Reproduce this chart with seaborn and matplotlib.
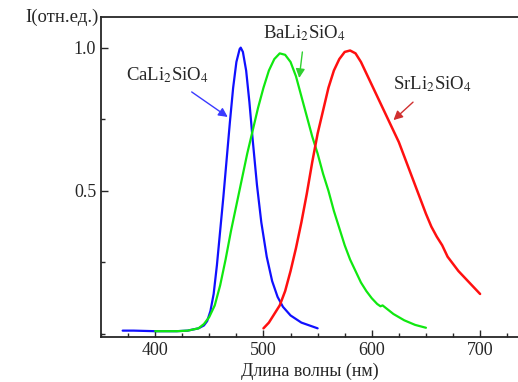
"""Luminescence spectra of CaLi2SiO4, BaLi2SiO4 and SrLi2SiO4."""

import matplotlib

matplotlib.use("Agg")
import matplotlib.pyplot as plt
from matplotlib.ticker import MultipleLocator
import seaborn as sns

# CaLi2SiO4 (blue)
ca_wl = [370, 380, 400, 420, 430, 440, 445, 448, 451, 454, 457, 460, 463, 466,
         469, 472, 475, 478, 479, 481, 484, 487, 490, 494, 498, 503, 508, 513,
         518, 525, 535, 550]
ca_int = [0.012, 0.012, 0.01, 0.01, 0.012, 0.02, 0.03, 0.045, 0.08, 0.14,
          0.24, 0.36, 0.48, 0.61, 0.74, 0.86, 0.95, 0.995, 1.0, 0.985, 0.92,
          0.81, 0.68, 0.52, 0.39, 0.27, 0.185, 0.13, 0.095, 0.065, 0.04, 0.02]

# BaLi2SiO4 (green)
ba_wl = [400, 420, 430, 440, 445, 450, 455, 460, 465, 470, 475, 480, 485, 490,
         495, 500, 505, 510, 515, 520, 525, 530, 535, 540, 545, 550, 555, 560,
         565, 570, 575, 580, 585, 590, 595, 600, 605, 608, 610, 620, 630, 640,
         650]
ba_int = [0.01, 0.01, 0.012, 0.02, 0.035, 0.06, 0.1, 0.17, 0.26, 0.36, 0.45,
          0.54, 0.63, 0.71, 0.79, 0.86, 0.92, 0.96, 0.98, 0.975, 0.95, 0.9,
          0.83, 0.76, 0.69, 0.63, 0.56, 0.5, 0.43, 0.37, 0.31, 0.26, 0.22,
          0.18, 0.15, 0.125, 0.105, 0.097, 0.1, 0.07, 0.048, 0.032, 0.022]

# SrLi2SiO4 (red)
sr_wl = [500, 505, 510, 515, 520, 525, 530, 535, 540, 545, 550, 555, 560, 565,
         570, 575, 580, 585, 590, 595, 600, 605, 610, 615, 620, 625, 630, 635,
         640, 645, 650, 655, 660, 665, 670, 675, 680, 690, 700]
sr_int = [0.02, 0.04, 0.07, 0.1, 0.15, 0.22, 0.3, 0.39, 0.49, 0.6, 0.7, 0.78,
          0.86, 0.92, 0.96, 0.985, 0.99, 0.98, 0.95, 0.91, 0.87, 0.83, 0.79,
          0.75, 0.71, 0.67, 0.62, 0.57, 0.52, 0.47, 0.42, 0.375, 0.34, 0.31,
          0.27, 0.245, 0.22, 0.18, 0.14]

x_ticks = [400, 500, 600, 700]
y_ticks = [0.5, 1.0]

sns.set_style("ticks")
plt.rcParams["font.family"] = ["Liberation Serif", "DejaVu Serif"]
plt.rcParams["mathtext.fontset"] = "stix"

fig = plt.figure(figsize=(5.18, 3.82), dpi=100)
ax = fig.add_axes([0.195, 0.118, 0.805, 0.8375])

sns.lineplot(x=ca_wl, y=ca_int, ax=ax, color="#1010ff", linewidth=1.6)
sns.lineplot(x=ba_wl, y=ba_int, ax=ax, color="#10e810", linewidth=1.6)
sns.lineplot(x=sr_wl, y=sr_int, ax=ax, color="#ff1010", linewidth=1.8)

ax.set_xlim(350, 735)
ax.set_ylim(-0.01, 1.107)
ax.set_xticks(x_ticks)
ax.set_yticks(y_ticks)
ax.set_yticklabels(["0.5", "1.0"])
ax.xaxis.set_minor_locator(MultipleLocator(25))
ax.yaxis.set_minor_locator(MultipleLocator(0.25))
ax.tick_params(which="both", direction="in", labelsize=13, width=1)
ax.tick_params(which="major", length=5)
ax.tick_params(which="minor", length=3)
for side in ["left", "bottom", "top"]:
    ax.spines[side].set_linewidth(1.3)
ax.spines["right"].set_visible(False)

ax.set_xlabel("Длина волны (нм)", fontsize=13, labelpad=3)
fig.text(0.048, 0.955, "I(отн.ед.)", fontsize=13.5, va="center", ha="left")

ax.annotate("CaLi$_2$SiO$_4$", xy=(467, 0.758), xytext=(411, 0.905),
            fontsize=13.5, ha="center", va="center",
            arrowprops=dict(arrowstyle="-|>", color="#3a3aff", lw=1,
                            shrinkA=5, shrinkB=0))
ax.annotate("BaLi$_2$SiO$_4$", xy=(533, 0.894), xytext=(538, 1.05),
            fontsize=13.5, ha="center", va="center",
            arrowprops=dict(arrowstyle="-|>", color="#30d030", lw=1,
                            shrinkA=4, shrinkB=0))
ax.annotate("SrLi$_2$SiO$_4$", xy=(620, 0.747), xytext=(656, 0.872),
            fontsize=13.5, ha="center", va="center",
            arrowprops=dict(arrowstyle="-|>", color="#d03030", lw=1,
                            shrinkA=5, shrinkB=0))

fig.savefig("out.png", dpi=100)
plt.close(fig)
